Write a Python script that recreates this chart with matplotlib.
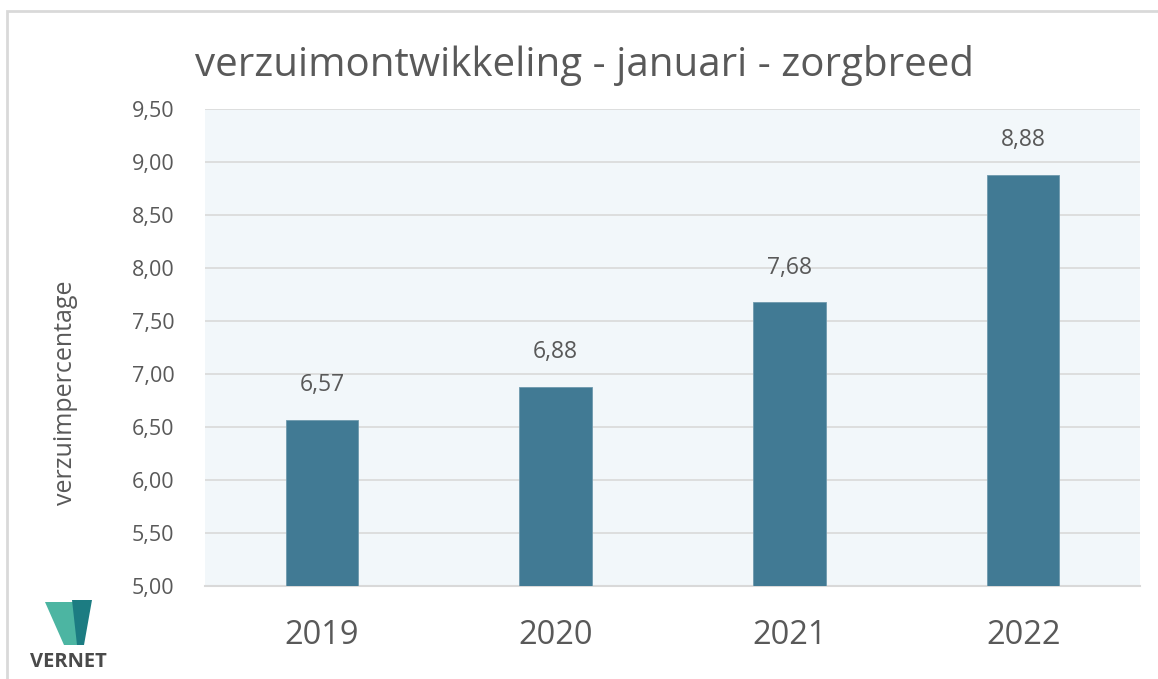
import matplotlib
matplotlib.use("Agg")
import matplotlib.pyplot as plt
from matplotlib.patches import Polygon, Rectangle

years = ["2019", "2020", "2021", "2022"]
values = [6.57, 6.88, 7.68, 8.88]
yticks = [5.0, 5.5, 6.0, 6.5, 7.0, 7.5, 8.0, 8.5, 9.0, 9.5]

W, H = 1158, 679
fig = plt.figure(figsize=(W / 100, H / 100), dpi=100)
fig.patch.set_facecolor("white")
plt.rcParams["font.family"] = ["Open Sans", "DejaVu Sans"]

txt = "#595959"
# outer frame
fig.add_artist(Rectangle((7 / W, -0.01), 1.05, 1 - 11 / H + 0.01, transform=fig.transFigure,
                         fill=False, edgecolor="#D9D9D9", linewidth=2.0))

left, right, top, bottom = 205, 1140, 109, 586
ax = fig.add_axes([left / W, 1 - bottom / H, (right - left) / W, (bottom - top) / H])
ax.set_facecolor("#F2F7FA")
x = list(range(len(years)))
ax.bar(x, values, width=0.31, color="#417A94", edgecolor="#6F9AAE", linewidth=0.6, zorder=3)
ax.set_xlim(-0.5, len(years) - 0.5)
ax.set_ylim(5.0, 9.5)
ax.set_yticks(yticks)
ax.set_yticklabels([f"{v:.2f}".replace(".", ",") for v in yticks])
ax.set_xticks(x)
ax.set_xticklabels(years)
ax.grid(axis="y", color="#D9D9D9", linewidth=1.2, zorder=0)
ax.tick_params(axis="y", length=0, labelsize=15.5, labelcolor=txt, pad=22)
ax.tick_params(axis="x", length=0, labelsize=23.5, labelcolor=txt, pad=24)
for s in ["top", "right", "left"]:
    ax.spines[s].set_visible(False)
ax.spines["bottom"].set_color("#D9D9D9")
ax.spines["bottom"].set_linewidth(1.5)

for xi, v in zip(x, values):
    ax.annotate(f"{v:.2f}".replace(".", ","), (xi, v), xytext=(0, 16), textcoords="offset points",
                ha="center", va="bottom", fontsize=16.5, color=txt)

fig.text(195 / W, 1 - 65 / H, "verzuimontwikkeling - januari - zorgbreed", fontsize=29,
         color=txt, ha="left", va="center")
fig.text(66 / W, 1 - 393 / H, "verzuimpercentage", rotation=90, fontsize=18,
         color=txt, ha="center", va="center")

# logo
def P(pts, color):
    fig.add_artist(Polygon([(px / W, 1 - py / H) for px, py in pts], closed=True,
                           transform=fig.transFigure, facecolor=color, edgecolor="none"))

P([(45, 602), (73, 602), (79, 645), (64, 645)], "#4CB5A2")
P([(72, 600), (92, 600), (84, 645), (77, 645)], "#1C7C82")
fig.text(68 / W, 1 - 662 / H, "VERNET", fontsize=14.5, fontweight="bold", color="#4A4A4A",
         ha="center", va="center")

fig.savefig("out.png", dpi=100, facecolor="white")
